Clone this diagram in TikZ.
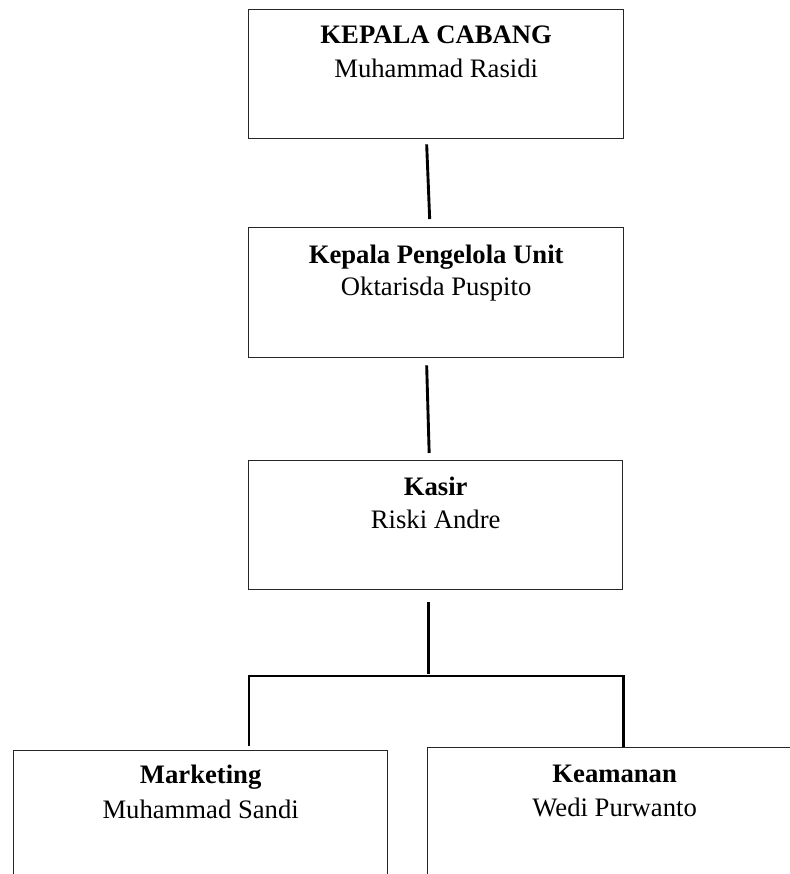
\documentclass[tikz,border=0pt]{standalone}
\usepackage{fontspec}
\setmainfont{Liberation Serif}
\usetikzlibrary{positioning, calc}

\begin{document}
\begin{tikzpicture}[
    x=0.45pt, y=-0.45pt,
    box/.style={draw=black!85, line width=0.6pt, anchor=north west, inner sep=0pt},
    conn/.style={line width=1.3pt},
    title/.style={font=\fontsize{12}{14}\selectfont\bfseries, anchor=base, inner sep=0pt},
    person/.style={font=\fontsize{12}{14}\selectfont, anchor=base, inner sep=0pt}
]
    \clip (0,0) rectangle (790,874);

    % Boxes
    \node[box, minimum width=168.75pt, minimum height=58.05pt] (kc) at (248,9) {};
    \node[box, minimum width=168.75pt, minimum height=58.5pt] (kpu) at (248,227) {};
    \node[box, minimum width=168.3pt, minimum height=58.05pt] (ksr) at (248,460) {};
    \node[box, minimum width=168.3pt, minimum height=67.5pt] (mkt) at (13,750) {};
    \node[box, minimum width=168.3pt, minimum height=68.85pt] (kmn) at (427,747) {};

    % Texts
    \node[title] (kct) at ($(kc.north)+(0,34)$) {KEPALA CABANG};
    \node[person] (kcn) at ($(kc.north)+(0,68)$) {Muhammad Rasidi};
    \node[title] (kput) at ($(kpu.north)+(0,36)$) {Kepala Pengelola Unit};
    \node[person] (kpun) at ($(kpu.north)+(0,68)$) {Oktarisda Puspito};
    \node[title] (ksrt) at ($(ksr.north)+(0,35)$) {Kasir};
    \node[person] (ksrn) at ($(ksr.north)+(0,68)$) {Riski Andre};
    \node[title] (mktt) at ($(mkt.north)+(0,33)$) {Marketing};
    \node[person] (mktn) at ($(mkt.north)+(0,68)$) {Muhammad Sandi};
    \node[title] (kmnt) at ($(kmn.north)+(0,35)$) {Keamanan};
    \node[person] (kmnn) at ($(kmn.north)+(0,69)$) {Wedi Purwanto};

    % Lines
    \draw[conn] ($(kc.south)+(-9.5,5)$) -- ($(kpu.north)+(-6.5,-8)$);
    \draw[conn] ($(kpu.south)+(-9.5,7)$) -- ($(ksr.north)+(-6.5,-7)$);
    \draw[conn] ($(ksr.south)+(-7,12)$) -- ($(ksr.south)+(-7,84)$);
    \draw[conn] ($(mkt.north -| ksr.south west)+(1,-4)$) |- ($(kmn.north -| ksr.south east)+(0,-71)$) -- (kmn.north -| ksr.south east);
\end{tikzpicture}
\end{document}
